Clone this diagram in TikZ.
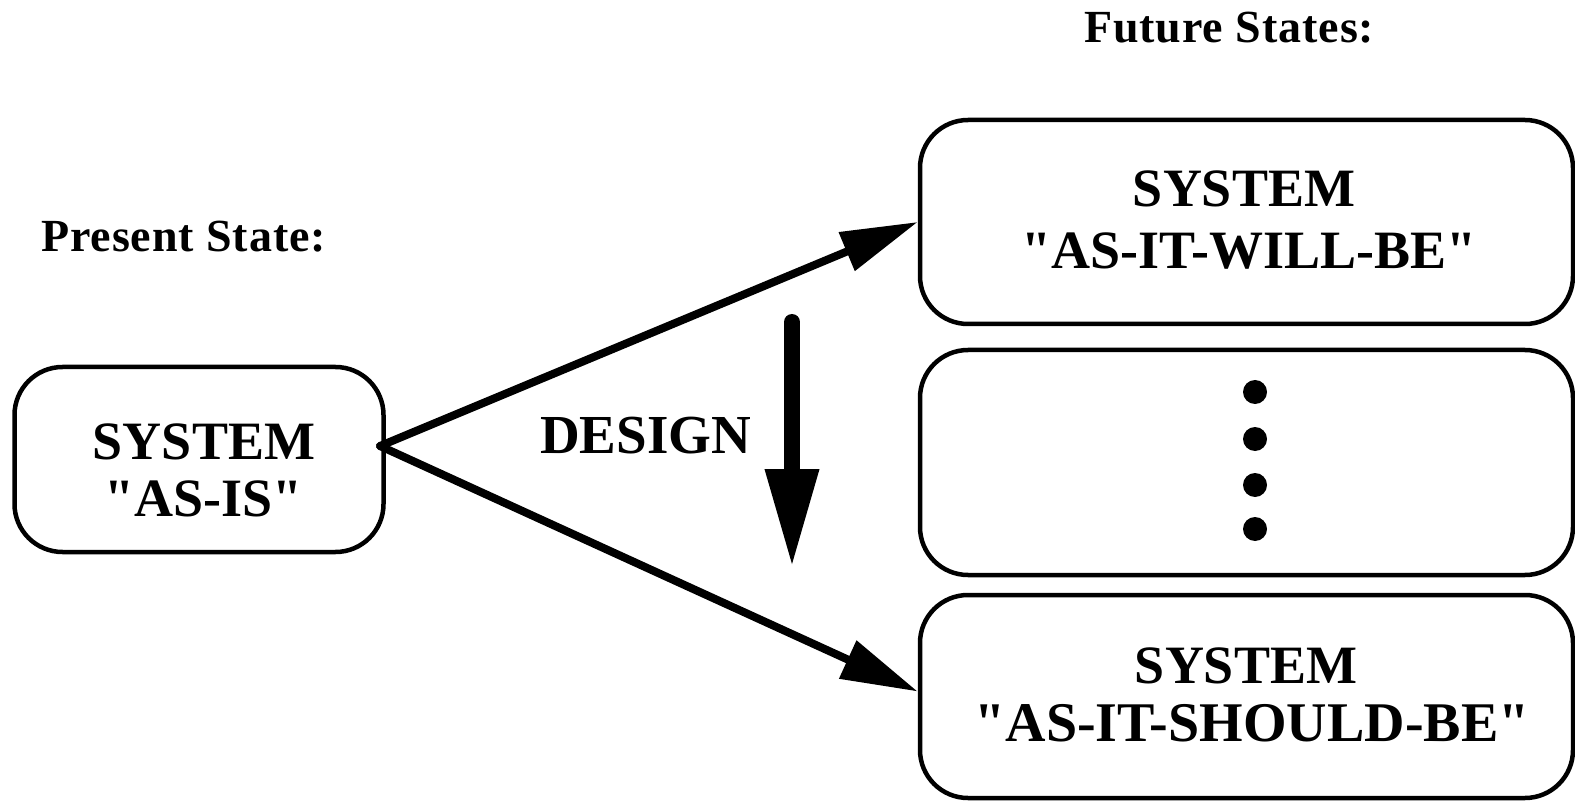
\documentclass[tikz,border=0pt]{standalone}
\usepackage{fontspec}
\setmainfont{Liberation Serif}[Ligatures=TeXOff]
\newfontfamily\spacedserif{Liberation Serif}[Ligatures=TeXOff, LetterSpace=2]
\usetikzlibrary{arrows.meta}
\begin{document}
\begin{tikzpicture}[x=1pt,y=-1pt,
  box/.style={draw, line width=4.5pt, rounded corners=48pt, inner sep=0pt},
  boxtext/.style={font=\fontsize{54}{60}\selectfont\bfseries, anchor=base, inner sep=0pt},
  heading/.style={font=\spacedserif\fontsize{46}{52}\selectfont\bfseries, anchor=base west, inner sep=0pt},
  flow/.style={line width=8pt, line cap=round, -{Triangle[length=77pt,width=40pt]}},
  design/.style={line width=16pt, line cap=round, -{Triangle[length=99pt,width=50pt]}},
  dot/.style={circle, fill, inner sep=0pt, minimum size=24pt}]
\useasboundingbox (0,0) rectangle (1575,802);

% headings
\node[heading] (present) at (41,252) {Present State:};
\node[heading] (future) at (1084,43) {Future States:};

% present system
\node[box, minimum width=369pt, minimum height=185pt] (asis) at (199,459.5) {};
\node[boxtext] (asis1) at (204,459) {SYSTEM};
\node[boxtext] (asis2) at (204,516) {"AS-IS"};

% future systems
\node[box, minimum width=653pt, minimum height=204pt] (willbe) at (1246.5,222) {};
\node[boxtext] (willbe1) at (1244,207) {SYSTEM};
\node[boxtext] (willbe2) at (1249,269) {"AS-IT-WILL-BE"};

\node[box, minimum width=653pt, minimum height=225pt] (others) at (1246.5,462.5) {};
\node[dot] (d1) at (1255,392) {};
\node[dot] (d2) at (1255,439) {};
\node[dot] (d3) at (1255,485) {};
\node[dot] (d4) at (1255,529) {};

\node[box, minimum width=653pt, minimum height=203pt] (should) at (1246.5,696.5) {};
\node[boxtext] (should1) at (1246,683) {SYSTEM};
\node[boxtext, font=\fontsize{56}{60}\selectfont\bfseries] (should2) at (1252,741) {"AS-IT-SHOULD-BE"};

% transitions
\coordinate (fork) at (380,446);
\draw[flow] (fork) -- (willbe.west);
\draw[flow] (fork) -- ([yshift=5pt]should.west);

% design step
\node[font=\fontsize{55}{60}\selectfont\bfseries, anchor=base west, inner sep=0pt] (designlabel) at (540,453) {DESIGN};
\coordinate (dtop) at (792,322);
\coordinate (dtip) at (792,568);
\draw[design] (dtop) -- (dtip);
\end{tikzpicture}
\end{document}
